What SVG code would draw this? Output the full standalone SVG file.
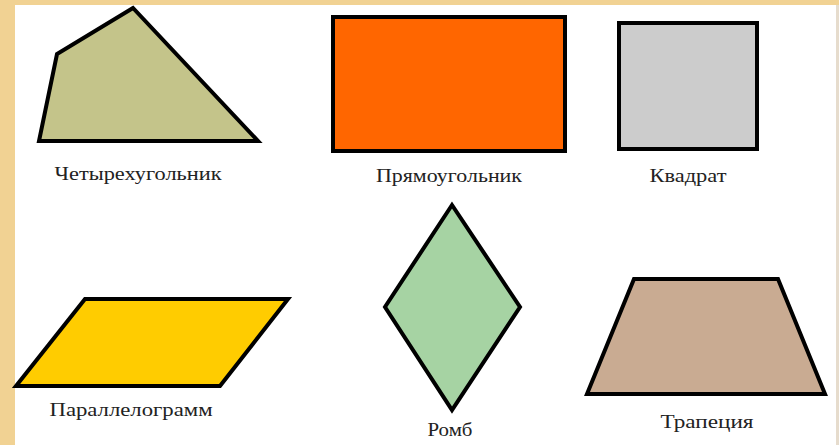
<svg xmlns="http://www.w3.org/2000/svg" width="839" height="445" viewBox="0 0 839 445">
<style>
.shape{stroke:#000;stroke-width:4;stroke-linejoin:miter}
.lbl{font-family:"Liberation Serif","Times New Roman",serif;font-size:19px;fill:#222;text-anchor:middle}
</style>
<rect x="0" y="0" width="839" height="445" fill="#ffffff"/>
<rect x="0" y="0" width="839" height="5" fill="#f1d293"/>
<rect x="0" y="0" width="15" height="445" fill="#f1d293"/>
<rect x="836" y="5" width="3" height="440" fill="#e6dccd"/>
<g id="quadrilateral">
<polygon class="shape" points="133,8 57,54 39,141 258,141" fill="#c4c48a"/>
<text class="lbl" x="138" y="180" textLength="167" lengthAdjust="spacingAndGlyphs">Четырехугольник</text>
</g>
<g id="rectangle">
<rect class="shape" x="333" y="17" width="232" height="134" fill="#ff6600" stroke="#1a0a00"/>
<text class="lbl" x="449" y="182" textLength="146" lengthAdjust="spacingAndGlyphs">Прямоугольник</text>
</g>
<g id="square">
<rect class="shape" x="619" y="23" width="138" height="126" fill="#cccccc"/>
<text class="lbl" x="688" y="182" textLength="77" lengthAdjust="spacingAndGlyphs">Квадрат</text>
</g>
<g id="parallelogram">
<polygon class="shape" points="85,299 288,299 220,386 16,386" fill="#ffcc00"/>
<text class="lbl" x="131" y="416" textLength="163" lengthAdjust="spacingAndGlyphs">Параллелограмм</text>
</g>
<g id="rhombus">
<polygon class="shape" points="452,205 520,307 452,410 385,307" fill="#a6d3a3"/>
<text class="lbl" x="450" y="436" textLength="45" lengthAdjust="spacingAndGlyphs">Ромб</text>
</g>
<g id="trapezoid">
<polygon class="shape" points="634,279 778,279 825,394 587,394" fill="#c9ab92"/>
<text class="lbl" x="707" y="428" textLength="93" lengthAdjust="spacingAndGlyphs">Трапеция</text>
</g>
</svg>
